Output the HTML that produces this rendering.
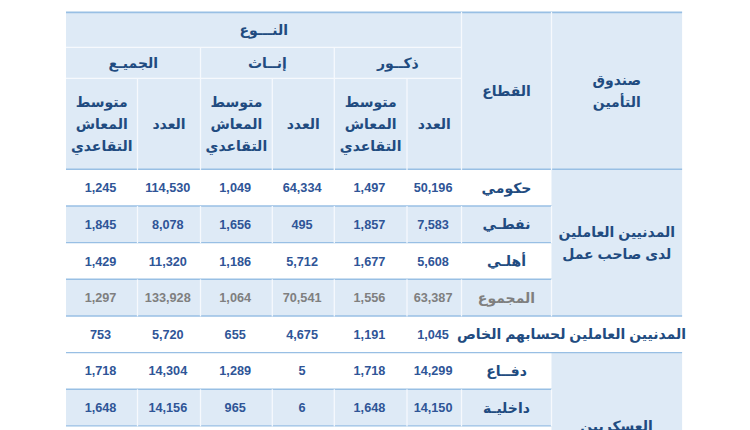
<!DOCTYPE html>
<html lang="ar">
<head>
<meta charset="utf-8">
<title>جدول</title>
<style>
html,body{margin:0;padding:0;background:#fff}
body{position:relative;width:750px;height:430px;overflow:hidden;font-family:"Liberation Sans",sans-serif}
svg{position:absolute;left:0;top:0;overflow:visible}
svg text{font-family:"Liberation Sans","DejaVu Sans",sans-serif;font-size:14px;font-weight:700;text-anchor:middle;direction:rtl}
.a{position:absolute}
.n{position:absolute;height:14px;line-height:14px;text-align:center;font-weight:700;font-size:12.7px;color:#2f5597;white-space:nowrap;direction:ltr}
.g{color:#7f7f7f}
</style>
</head>
<body>
<svg id="grid" width="750" height="430" viewBox="0 0 750 430">
<rect x="66.00" y="12.40" width="616.10" height="156.90" fill="#deeaf6"/>
<rect x="66.00" y="205.96" width="485.50" height="36.66" fill="#deeaf6"/>
<rect x="66.00" y="279.27" width="485.50" height="36.66" fill="#deeaf6"/>
<rect x="66.00" y="389.24" width="485.50" height="36.66" fill="#deeaf6"/>
<rect x="551.50" y="169.30" width="130.60" height="146.63" fill="#deeaf6"/>
<rect x="551.50" y="352.58" width="130.60" height="77.92" fill="#deeaf6"/>
<line x1="66.00" y1="12.40" x2="682.10" y2="12.40" stroke="#98bfe4" stroke-width="1.7"/>
<line x1="66.00" y1="169.30" x2="682.10" y2="169.30" stroke="#98bfe4" stroke-width="1.5"/>
<line x1="66.00" y1="205.96" x2="551.50" y2="205.96" stroke="#98bfe4" stroke-width="1.4"/>
<line x1="66.00" y1="242.61" x2="551.50" y2="242.61" stroke="#98bfe4" stroke-width="1.4"/>
<line x1="66.00" y1="279.27" x2="551.50" y2="279.27" stroke="#98bfe4" stroke-width="1.4"/>
<line x1="66.00" y1="315.93" x2="682.10" y2="315.93" stroke="#98bfe4" stroke-width="1.4"/>
<line x1="66.00" y1="352.58" x2="682.10" y2="352.58" stroke="#98bfe4" stroke-width="1.4"/>
<line x1="66.00" y1="389.24" x2="551.50" y2="389.24" stroke="#98bfe4" stroke-width="1.4"/>
<line x1="66.00" y1="425.90" x2="551.50" y2="425.90" stroke="#98bfe4" stroke-width="1.4"/>
<line x1="66.00" y1="47.30" x2="461.50" y2="47.30" stroke="#f6f9fd" stroke-width="1.25"/>
<line x1="66.00" y1="78.30" x2="461.50" y2="78.30" stroke="#f6f9fd" stroke-width="1.25"/>
<line x1="461.50" y1="11.90" x2="461.50" y2="169.90" stroke="#f6f9fd" stroke-width="1.25"/>
<line x1="551.50" y1="11.90" x2="551.50" y2="169.90" stroke="#f6f9fd" stroke-width="1.25"/>
<line x1="200.50" y1="47.30" x2="200.50" y2="169.90" stroke="#f6f9fd" stroke-width="1.25"/>
<line x1="334.30" y1="47.30" x2="334.30" y2="169.90" stroke="#f6f9fd" stroke-width="1.25"/>
<line x1="137.50" y1="78.30" x2="137.50" y2="169.90" stroke="#f6f9fd" stroke-width="1.25"/>
<line x1="272.30" y1="78.30" x2="272.30" y2="169.90" stroke="#f6f9fd" stroke-width="1.25"/>
<line x1="407.00" y1="78.30" x2="407.00" y2="169.90" stroke="#f6f9fd" stroke-width="1.25"/>
<line x1="137.50" y1="206.06" x2="137.50" y2="243.11" stroke="#f6f9fd" stroke-width="1.25"/>
<line x1="200.50" y1="206.06" x2="200.50" y2="243.11" stroke="#f6f9fd" stroke-width="1.25"/>
<line x1="272.30" y1="206.06" x2="272.30" y2="243.11" stroke="#f6f9fd" stroke-width="1.25"/>
<line x1="334.30" y1="206.06" x2="334.30" y2="243.11" stroke="#f6f9fd" stroke-width="1.25"/>
<line x1="407.00" y1="206.06" x2="407.00" y2="243.11" stroke="#f6f9fd" stroke-width="1.25"/>
<line x1="461.50" y1="206.06" x2="461.50" y2="243.11" stroke="#f6f9fd" stroke-width="1.25"/>
<line x1="551.50" y1="206.06" x2="551.50" y2="243.11" stroke="#f6f9fd" stroke-width="1.25"/>
<line x1="137.50" y1="279.37" x2="137.50" y2="316.43" stroke="#f6f9fd" stroke-width="1.25"/>
<line x1="200.50" y1="279.37" x2="200.50" y2="316.43" stroke="#f6f9fd" stroke-width="1.25"/>
<line x1="272.30" y1="279.37" x2="272.30" y2="316.43" stroke="#f6f9fd" stroke-width="1.25"/>
<line x1="334.30" y1="279.37" x2="334.30" y2="316.43" stroke="#f6f9fd" stroke-width="1.25"/>
<line x1="407.00" y1="279.37" x2="407.00" y2="316.43" stroke="#f6f9fd" stroke-width="1.25"/>
<line x1="461.50" y1="279.37" x2="461.50" y2="316.43" stroke="#f6f9fd" stroke-width="1.25"/>
<line x1="551.50" y1="279.37" x2="551.50" y2="316.43" stroke="#f6f9fd" stroke-width="1.25"/>
<line x1="137.50" y1="389.34" x2="137.50" y2="426.40" stroke="#f6f9fd" stroke-width="1.25"/>
<line x1="200.50" y1="389.34" x2="200.50" y2="426.40" stroke="#f6f9fd" stroke-width="1.25"/>
<line x1="272.30" y1="389.34" x2="272.30" y2="426.40" stroke="#f6f9fd" stroke-width="1.25"/>
<line x1="334.30" y1="389.34" x2="334.30" y2="426.40" stroke="#f6f9fd" stroke-width="1.25"/>
<line x1="407.00" y1="389.34" x2="407.00" y2="426.40" stroke="#f6f9fd" stroke-width="1.25"/>
<line x1="461.50" y1="389.34" x2="461.50" y2="426.40" stroke="#f6f9fd" stroke-width="1.25"/>
<line x1="551.50" y1="389.34" x2="551.50" y2="426.40" stroke="#f6f9fd" stroke-width="1.25"/>
</svg>
<div class="a" style="left:66px;top:12px;width:396px;height:36px"><svg width="396" height="36" viewBox="66 12 396 36" fill="#214b80"><text x="263.75" y="34.90">النـــوع</text></svg></div>
<div class="a" style="left:334px;top:47px;width:128px;height:32px"><svg width="128" height="32" viewBox="334 47 128 32" fill="#214b80"><text x="397.9" y="67.50">ذكــور</text></svg></div>
<div class="a" style="left:200px;top:47px;width:135px;height:32px"><svg width="135" height="32" viewBox="200 47 135 32" fill="#214b80"><text x="267.4" y="67.50">إنــاث</text></svg></div>
<div class="a" style="left:66px;top:47px;width:135px;height:32px"><svg width="135" height="32" viewBox="66 47 135 32" fill="#214b80"><text x="133.25" y="67.50">الجميـع</text></svg></div>
<div class="a" style="left:407px;top:78px;width:55px;height:92px"><svg width="55" height="92" viewBox="407 78 55 92" fill="#214b80"><text x="434.25" y="129.10">العدد</text></svg></div>
<div class="a" style="left:272px;top:78px;width:63px;height:92px"><svg width="63" height="92" viewBox="272 78 63 92" fill="#214b80"><text x="303.3" y="129.10">العدد</text></svg></div>
<div class="a" style="left:137px;top:78px;width:64px;height:92px"><svg width="64" height="92" viewBox="137 78 64 92" fill="#214b80"><text x="169" y="129.10">العدد</text></svg></div>
<div class="a" style="left:334px;top:78px;width:73px;height:92px"><svg width="73" height="92" viewBox="334 78 73 92" fill="#214b80"><text x="370.65" y="107.10">متوسط</text><text x="370.65" y="129.10">المعاش</text><text x="370.65" y="150.80">التقاعدي</text></svg></div>
<div class="a" style="left:200px;top:78px;width:73px;height:92px"><svg width="73" height="92" viewBox="200 78 73 92" fill="#214b80"><text x="236.4" y="107.10">متوسط</text><text x="236.4" y="129.10">المعاش</text><text x="236.4" y="150.80">التقاعدي</text></svg></div>
<div class="a" style="left:66px;top:78px;width:72px;height:92px"><svg width="72" height="92" viewBox="66 78 72 92" fill="#214b80"><text x="101.75" y="107.10">متوسط</text><text x="101.75" y="129.10">المعاش</text><text x="101.75" y="150.80">التقاعدي</text></svg></div>
<div class="a" style="left:461px;top:12px;width:91px;height:158px"><svg width="91" height="158" viewBox="461 12 91 158" fill="#214b80"><text x="506.5" y="96.40">القطاع</text></svg></div>
<div class="a" style="left:551px;top:12px;width:132px;height:158px"><svg width="132" height="158" viewBox="551 12 132 158" fill="#214b80"><text x="616.8" y="84.60">صندوق</text><text x="616.8" y="106.60">التأمين</text></svg></div>
<div class="a" style="left:461px;top:169px;width:91px;height:37px"><svg width="91" height="37" viewBox="461 169 91 37" fill="#214b80"><text x="506.5" y="193.13">حكومي</text></svg></div>
<div class="a" style="left:461px;top:205px;width:91px;height:38px"><svg width="91" height="38" viewBox="461 205 91 38" fill="#214b80"><text x="506.5" y="229.29">نفطـي</text></svg></div>
<div class="a" style="left:461px;top:242px;width:91px;height:38px"><svg width="91" height="38" viewBox="461 242 91 38" fill="#214b80"><text x="506.5" y="265.94">أهلـي</text></svg></div>
<div class="a" style="left:461px;top:279px;width:91px;height:37px"><svg width="91" height="37" viewBox="461 279 91 37" fill="#7f7f7f"><text x="506.5" y="303.00">المجموع</text></svg></div>
<div class="a" style="left:551px;top:169px;width:132px;height:147px"><svg width="132" height="147" viewBox="551 169 132 147" fill="#214b80"><text x="616.8" y="236.90">المدنيين العاملين</text><text x="616.8" y="258.60">لدى صاحب عمل</text></svg></div>
<div class="a" style="left:461px;top:315px;width:222px;height:38px"><svg width="222" height="38" viewBox="461 315 222 38" fill="#214b80"><text x="571.5" y="339.00">المدنيين العاملين لحسابهم الخاص</text></svg></div>
<div class="a" style="left:461px;top:352px;width:91px;height:38px"><svg width="91" height="38" viewBox="461 352 91 38" fill="#214b80"><text x="506.5" y="375.91">دفــاع</text></svg></div>
<div class="a" style="left:461px;top:389px;width:91px;height:37px"><svg width="91" height="37" viewBox="461 389 91 37" fill="#214b80"><text x="506.5" y="412.57">داخليـة</text></svg></div>
<div class="a" style="left:551px;top:352px;width:132px;height:78px"><svg width="132" height="78" viewBox="551 352 132 78" fill="#214b80"><text x="616.5" y="431.20">العسكريين</text></svg></div>
<div class="n" style="left:64.80px;top:181px;width:71.50px">1,245</div>
<div class="n" style="left:136.30px;top:181px;width:63.00px">114,530</div>
<div class="n" style="left:199.30px;top:181px;width:71.80px">1,049</div>
<div class="n" style="left:271.10px;top:181px;width:62.00px">64,334</div>
<div class="n" style="left:333.10px;top:181px;width:72.70px">1,497</div>
<div class="n" style="left:405.80px;top:181px;width:54.50px">50,196</div>
<div class="n" style="left:64.80px;top:218px;width:71.50px">1,845</div>
<div class="n" style="left:136.30px;top:218px;width:63.00px">8,078</div>
<div class="n" style="left:199.30px;top:218px;width:71.80px">1,656</div>
<div class="n" style="left:271.10px;top:218px;width:62.00px">495</div>
<div class="n" style="left:333.10px;top:218px;width:72.70px">1,857</div>
<div class="n" style="left:405.80px;top:218px;width:54.50px">7,583</div>
<div class="n" style="left:64.80px;top:255px;width:71.50px">1,429</div>
<div class="n" style="left:136.30px;top:255px;width:63.00px">11,320</div>
<div class="n" style="left:199.30px;top:255px;width:71.80px">1,186</div>
<div class="n" style="left:271.10px;top:255px;width:62.00px">5,712</div>
<div class="n" style="left:333.10px;top:255px;width:72.70px">1,677</div>
<div class="n" style="left:405.80px;top:255px;width:54.50px">5,608</div>
<div class="n g" style="left:64.80px;top:291px;width:71.50px">1,297</div>
<div class="n g" style="left:136.30px;top:291px;width:63.00px">133,928</div>
<div class="n g" style="left:199.30px;top:291px;width:71.80px">1,064</div>
<div class="n g" style="left:271.10px;top:291px;width:62.00px">70,541</div>
<div class="n g" style="left:333.10px;top:291px;width:72.70px">1,556</div>
<div class="n g" style="left:405.80px;top:291px;width:54.50px">63,387</div>
<div class="n" style="left:64.80px;top:328px;width:71.50px">753</div>
<div class="n" style="left:136.30px;top:328px;width:63.00px">5,720</div>
<div class="n" style="left:199.30px;top:328px;width:71.80px">655</div>
<div class="n" style="left:271.10px;top:328px;width:62.00px">4,675</div>
<div class="n" style="left:333.10px;top:328px;width:72.70px">1,191</div>
<div class="n" style="left:405.80px;top:328px;width:54.50px">1,045</div>
<div class="n" style="left:64.80px;top:364px;width:71.50px">1,718</div>
<div class="n" style="left:136.30px;top:364px;width:63.00px">14,304</div>
<div class="n" style="left:199.30px;top:364px;width:71.80px">1,289</div>
<div class="n" style="left:271.10px;top:364px;width:62.00px">5</div>
<div class="n" style="left:333.10px;top:364px;width:72.70px">1,718</div>
<div class="n" style="left:405.80px;top:364px;width:54.50px">14,299</div>
<div class="n" style="left:64.80px;top:401px;width:71.50px">1,648</div>
<div class="n" style="left:136.30px;top:401px;width:63.00px">14,156</div>
<div class="n" style="left:199.30px;top:401px;width:71.80px">965</div>
<div class="n" style="left:271.10px;top:401px;width:62.00px">6</div>
<div class="n" style="left:333.10px;top:401px;width:72.70px">1,648</div>
<div class="n" style="left:405.80px;top:401px;width:54.50px">14,150</div>
</body>
</html>
